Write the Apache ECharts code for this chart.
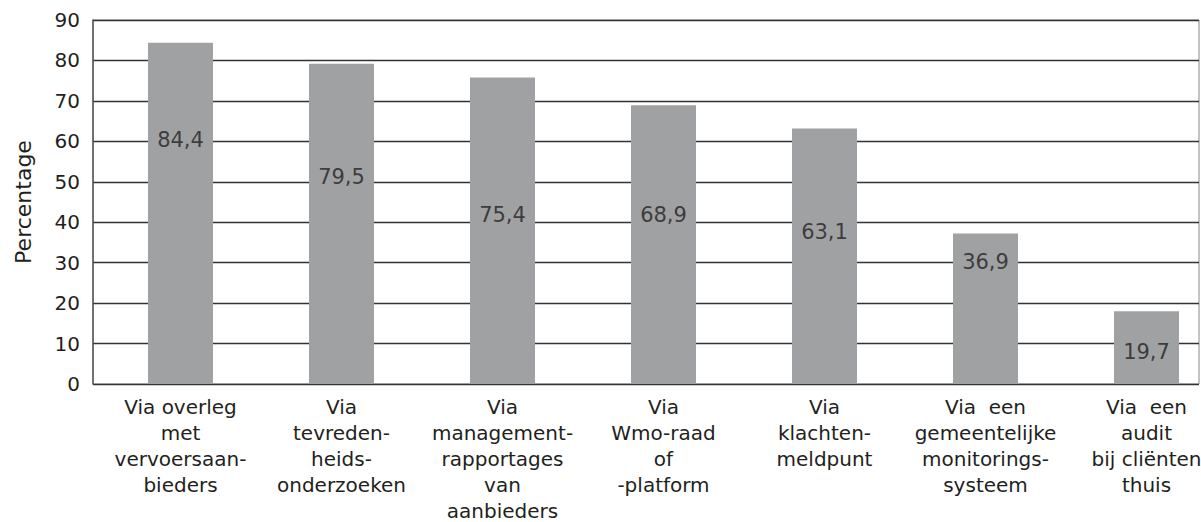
<!DOCTYPE html>
<html>
<head>
<meta charset="utf-8">
<script src="https://cdn.jsdelivr.net/npm/echarts@6/dist/echarts.min.js"></script>
<style>
  html, body { margin: 0; padding: 0; background: #fff; }
  #chart { width: 1201px; height: 522px; }
</style>
</head>
<body>
<div id="chart"></div>
<script>
// categorieën (x-as)
const categories = [
  'Via overleg\nmet\nvervoersaan-\nbieders',
  'Via\ntevreden-\nheids-\nonderzoeken',
  'Via\nmanagement-\nrapportages\nvan\naanbieders',
  'Via\nWmo-raad\nof\n-platform',
  'Via\nklachten-\nmeldpunt',
  'Via  een\ngemeentelijke\nmonitorings-\nsysteem',
  'Via  een\naudit\nbij cliënten\nthuis'
]
// staafhoogtes zoals getekend
const barValues = [84.4, 79.2, 75.8, 68.9, 63.2, 37.2, 18.0]
// tekst in de staven
const barLabels = ['84,4', '79,5', '75,4', '68,9', '63,1', '36,9', '19,7']
// hoogte (in %) waar de tekst in de staaf staat
const labelAt = [60.3, 51.2, 41.8, 41.8, 37.6, 30.2, 7.9]
const yTicks = { min: 0, max: 90, interval: 10 }

const FONT = 'DejaVu Sans'
const TEXT = '#231f20'

const chart = echarts.init(document.getElementById('chart'), null, { renderer: 'svg' })

chart.setOption({
  animation: false,
  backgroundColor: '#fff',
  grid: [
    // raster + assen
    { left: 93, right: 2, top: 20, bottom: 138, outerBoundsMode: 'none', show: true, borderColor: '#8a8a8a', borderWidth: 1 },
    // staven (iets breder dan het raster, zoals in het origineel)
    { left: 100, right: -26, top: 20, bottom: 138, outerBoundsMode: 'none' }
  ],
  xAxis: [
    { gridIndex: 0, type: 'value', min: 0, max: 1, show: false },
    {
      gridIndex: 1,
      type: 'category',
      data: categories,
      axisLine: { show: false },
      axisTick: { show: false },
      axisLabel: {
        interval: 0,
        hideOverlap: false,
        margin: 10,
        color: TEXT,
        fontFamily: FONT,
        fontSize: 20,
        lineHeight: 26,
        align: 'center'
      }
    }
  ],
  yAxis: [
    {
      gridIndex: 0,
      type: 'value',
      min: yTicks.min,
      max: yTicks.max,
      interval: yTicks.interval,
      name: 'Percentage',
      nameLocation: 'middle',
      nameGap: 59,
      nameTextStyle: { color: TEXT, fontFamily: FONT, fontSize: 22 },
      axisLine: { show: true, lineStyle: { color: '#555', width: 1.5 } },
      axisTick: { show: false },
      axisLabel: { color: TEXT, fontFamily: FONT, fontSize: 20, margin: 13 },
      splitLine: { show: true, lineStyle: { color: '#333', width: 1.4 } }
    },
    { gridIndex: 1, type: 'value', min: yTicks.min, max: yTicks.max, show: false }
  ],
  series: [
    {
      type: 'bar',
      xAxisIndex: 1,
      yAxisIndex: 1,
      barWidth: 65,
      itemStyle: { color: '#a0a1a3' },
      data: barValues,
      z: 3
    },
    {
      type: 'scatter',
      xAxisIndex: 1,
      yAxisIndex: 1,
      symbolSize: 0,
      silent: true,
      z: 4,
      data: labelAt.map((v, i) => [i, v]),
      label: {
        show: true,
        position: 'inside',
        color: TEXT,
        fontFamily: FONT,
        fontSize: 21,
        formatter: p => barLabels[p.dataIndex]
      }
    }
  ]
})
</script>
</body>
</html>
